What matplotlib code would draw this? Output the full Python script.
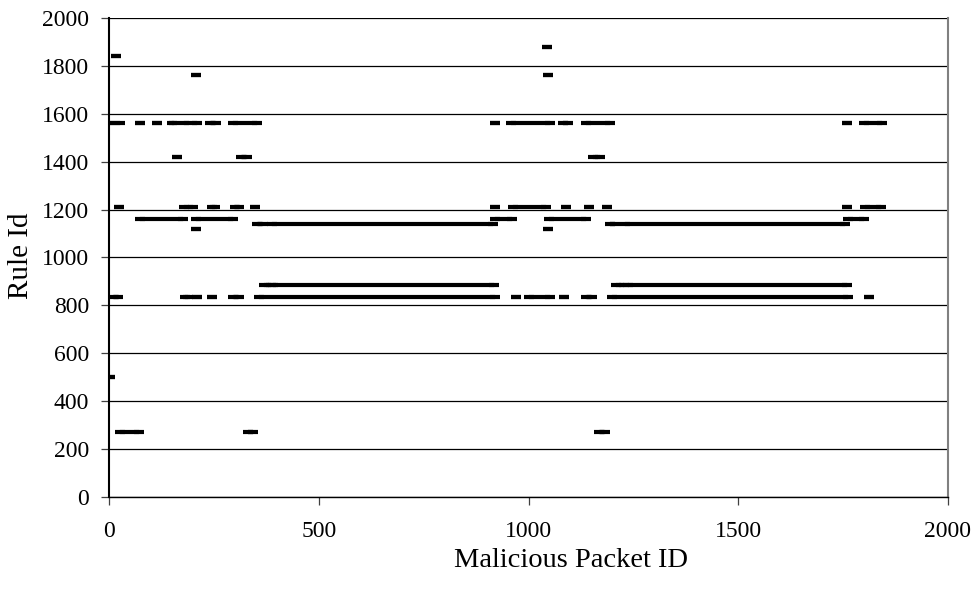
import matplotlib
matplotlib.use("Agg")
import matplotlib.pyplot as plt

plt.rcParams["font.family"] = ["Liberation Serif", "DejaVu Serif"]

# runs of consecutive malicious packets that matched the same rule
# (first packet id, last packet id, rule id)
run_start = [1045, 16, 206, 1047,
             1, 72, 113, 150, 177, 240, 294, 921, 958, 1082, 1136, 1760, 1800,
             162, 314, 1154,
             22, 179, 244, 300, 347, 921, 963, 1089, 1145, 1187, 1760, 1803,
             73, 207, 921, 1048, 1762,
             352, 388, 1194, 1229,
             206, 1047,
             368, 390, 1208, 1237,
             11, 180, 208, 244, 296, 358, 971, 1001, 1085, 1137, 1199, 1813,
             1,
             26, 330, 1168]
run_end = [1045, 16, 206, 1047,
           25, 72, 113, 155, 209, 254, 353, 921, 1051, 1095, 1195, 1760, 1843,
           162, 329, 1171,
           22, 200, 251, 308, 347, 921, 1042, 1089, 1145, 1187, 1760, 1841,
           176, 295, 960, 1136, 1801,
           367, 916, 1207, 1756,
           206, 1047,
           386, 918, 1227, 1760,
           21, 188, 208, 244, 309, 920, 971, 1051, 1085, 1151, 1762, 1813,
           1,
           71, 343, 1182]
run_rule = [1880, 1840, 1760, 1760,
            1560, 1560, 1560, 1560, 1560, 1560, 1560, 1560, 1560, 1560, 1560, 1560, 1560,
            1420, 1420, 1420,
            1210, 1210, 1210, 1210, 1210, 1210, 1210, 1210, 1210, 1210, 1210, 1210,
            1160, 1160, 1160, 1160, 1160,
            1140, 1140, 1140, 1140,
            1120, 1120,
            885, 885, 885, 885,
            835, 835, 835, 835, 835, 835, 835, 835, 835, 835, 835, 835,
            500,
            270, 270, 270]

x_ticks = [0, 500, 1000, 1500, 2000]
y_ticks = list(range(0, 2001, 200))

fig = plt.figure(figsize=(9.77, 5.92), dpi=100)
ax = fig.add_axes([0.112, 0.161, 0.858, 0.8085])

for s, e, r in zip(run_start, run_end, run_rule):
    ax.plot([s, e], [r, r], color="black", lw=3.0, solid_capstyle="round",
            marker="_", ms=6.5, mew=3.0, zorder=3)

ax.set_xlim(0, 2000)
ax.set_ylim(0, 2000)
ax.set_xticks(x_ticks)
ax.set_yticks(y_ticks)
ax.grid(axis="y", color="black", lw=0.9, zorder=0)
ax.set_axisbelow(True)

ax.spines["top"].set_visible(False)
ax.spines["left"].set_linewidth(1.5)
ax.spines["bottom"].set_linewidth(1.0)
ax.spines["right"].set_color("#808080")
ax.spines["right"].set_linewidth(1.5)

ax.tick_params(axis="both", direction="out", length=5.5, width=0.9,
               labelsize=17, color="#404040")
ax.tick_params(axis="x", pad=12)
ax.tick_params(axis="y", pad=9)

fig.text(571 / 977, 1 - 567 / 592, "Malicious Packet ID", ha="center",
         va="baseline", fontsize=20.5)
fig.text(21 / 977, 1 - 256 / 592, "Rule Id", ha="center", va="center",
         rotation=90, fontsize=21)

fig.savefig("out.png", dpi=100)
